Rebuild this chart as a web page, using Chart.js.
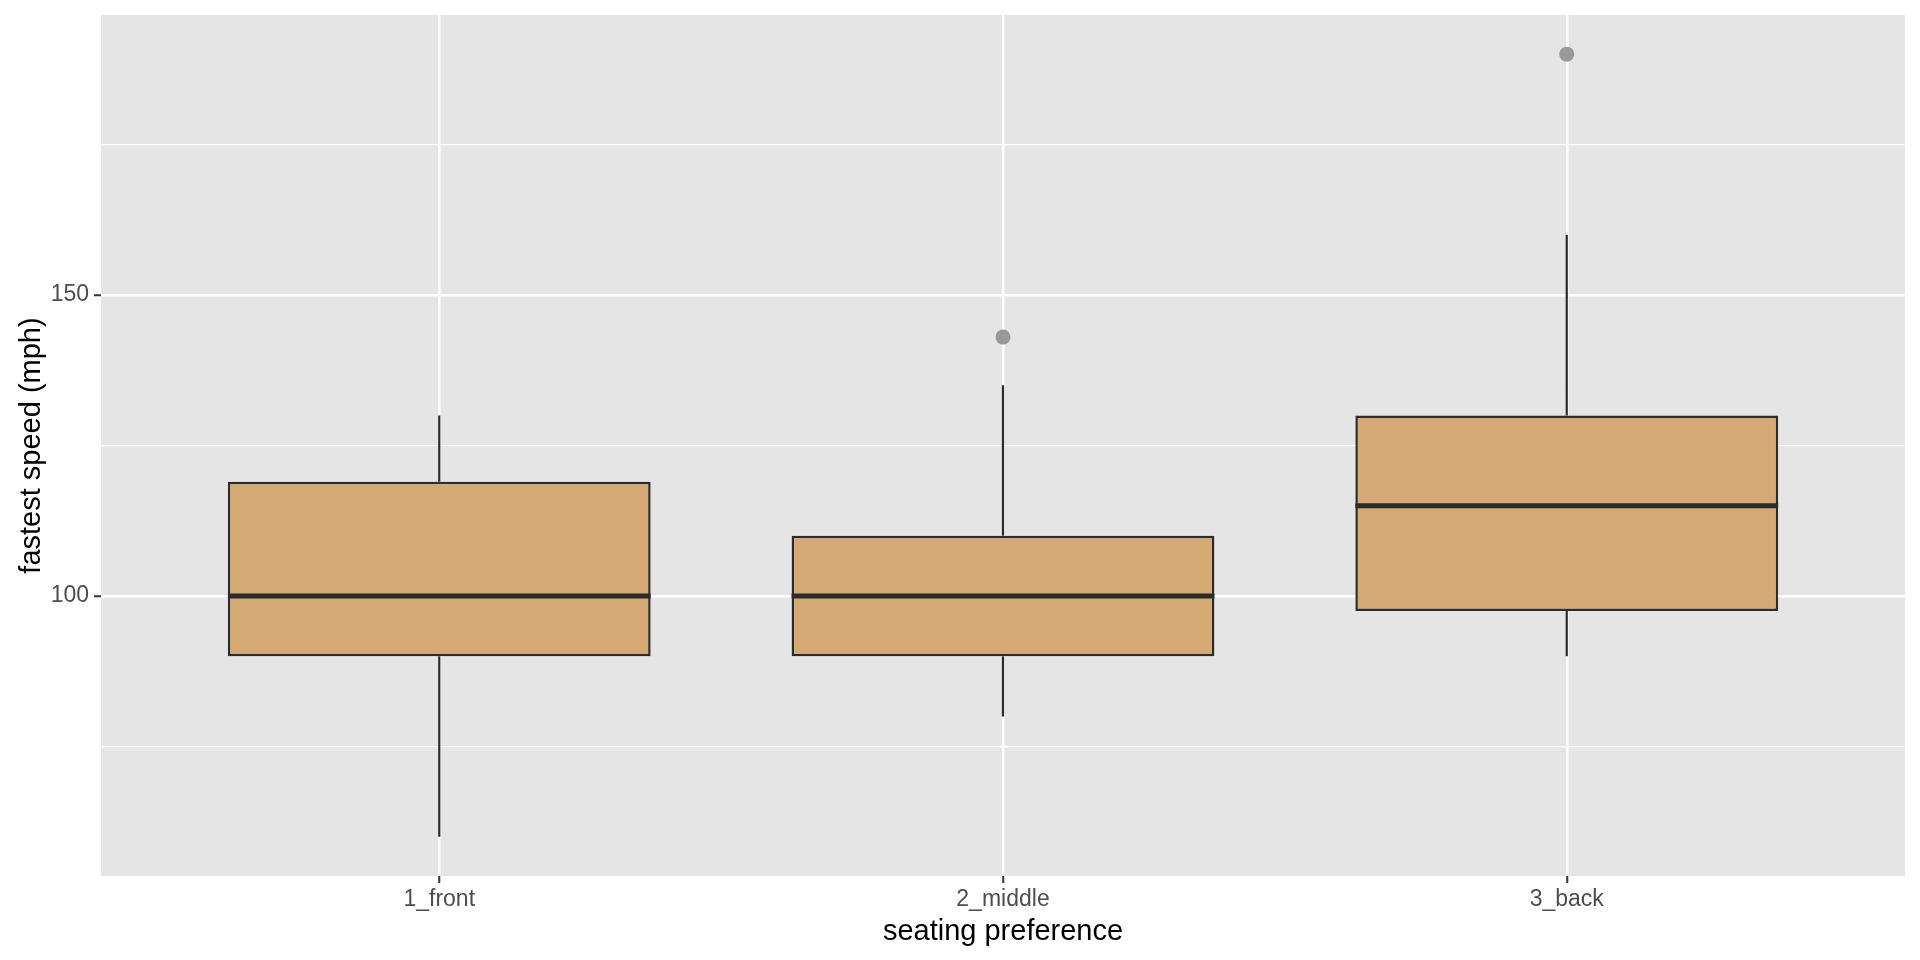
<!DOCTYPE html>
<html>
<head>
<meta charset="utf-8">
<script src="https://cdn.jsdelivr.net/npm/chart.js@4"></script>
<style>
  html, body { margin: 0; padding: 0; background: #ffffff; }
  #wrap { width: 1920px; height: 960px; }
</style>
</head>
<body>
<div id="wrap"><canvas id="chart" width="1920" height="960"></canvas></div>
<script>
// box plot summary per seating group
const categories = ["1_front", "2_middle", "3_back"];
const lowerWhisker = [60, 80, 90];
const q1 = [90, 90, 97.5];
const median = [100, 100, 115];
const q3 = [119, 110, 130];
const upperWhisker = [130, 135, 160];
const outliers = [[], [143], [190]];

const yTicks = [100, 150];
const yMin = 53.5, yMax = 196.5;

const boxWidth = 0.75;
const boxFill = "#d4a974";
const lineColor = "#2b2b2b";

// whiskers as one line with gaps
const whiskerPts = [];
categories.forEach((c, i) => {
    const x = i + 1;
    whiskerPts.push({x: x, y: q3[i]}, {x: x, y: upperWhisker[i]}, {x: x, y: null});
    whiskerPts.push({x: x, y: lowerWhisker[i]}, {x: x, y: q1[i]}, {x: x, y: null});
});

const medianPts = [];
categories.forEach((c, i) => {
    const x = i + 1;
    medianPts.push({x: x - boxWidth / 2, y: median[i]}, {x: x + boxWidth / 2, y: median[i]}, {x: x, y: null});
});

const outlierPts = [];
outliers.forEach((arr, i) => arr.forEach(v => outlierPts.push({x: i + 1, y: v})));

const boxData = categories.map((c, i) => ({x: i + 1, y: [q1[i], q3[i]]}));

const panelBg = {
    id: "panelBg",
    beforeDraw(chart) {
        const a = chart.chartArea;
        const ctx = chart.ctx;
        ctx.save();
        ctx.fillStyle = "#e5e5e5";
        ctx.fillRect(a.left, a.top, a.right - a.left, a.bottom - a.top);
        ctx.restore();
    }
};

const ctx = document.getElementById("chart").getContext("2d");
new Chart(ctx, {
    type: "bar",
    data: {
        datasets: [
            {
                type: "line",
                data: medianPts,
                borderColor: lineColor,
                borderWidth: 5,
                pointRadius: 0,
                spanGaps: false,
                order: 0
            },
            {
                type: "scatter",
                data: outlierPts,
                backgroundColor: "#999999",
                borderWidth: 0,
                pointRadius: 7.5,
                order: 0
            },
            {
                data: boxData,
                backgroundColor: boxFill,
                borderColor: lineColor,
                borderWidth: 2.5,
                borderSkipped: false,
                barPercentage: boxWidth,
                categoryPercentage: 1,
                order: 1
            },
            {
                type: "line",
                data: whiskerPts,
                borderColor: lineColor,
                borderWidth: 2.2,
                pointRadius: 0,
                spanGaps: false,
                order: 2
            }
        ]
    },
    options: {
        responsive: false,
        animation: false,
        layout: { padding: { top: 15, right: 15, left: 0, bottom: 0 } },
        plugins: {
            legend: { display: false },
            tooltip: { enabled: false }
        },
        scales: {
            x: {
                type: "linear",
                min: 0.4,
                max: 3.6,
                offset: false,
                border: { display: false },
                grid: {
                    offset: false,
                    color: "#ffffff",
                    lineWidth: 2.5,
                    tickColor: "#333333",
                    tickLength: 7,
                    tickWidth: 2
                },
                ticks: {
                    stepSize: 1,
                    includeBounds: false,
                    autoSkip: false,
                    maxRotation: 0,
                    color: "#4d4d4d",
                    padding: 3,
                    font: { family: "Liberation Sans", size: 23 },
                    callback: v => categories[v - 1] || ""
                },
                title: {
                    display: true,
                    text: "seating preference",
                    color: "#000000",
                    padding: { top: 0, bottom: 11 },
                    font: { family: "Liberation Sans", size: 29 }
                },
                afterFit(scale) {
                    scale.height = 84;
                    scale.paddingLeft = 0;
                    scale.paddingRight = 0;
                }
            },
            y: {
                min: yMin,
                max: yMax,
                border: { display: false },
                grid: {
                    color: "#ffffff",
                    lineWidth: c => yTicks.includes(c.tick.value) ? 2.5 : 1.2,
                    tickColor: c => yTicks.includes(c.tick.value) ? "#333333" : "rgba(0,0,0,0)",
                    tickLength: 7,
                    tickWidth: 2
                },
                ticks: {
                    stepSize: 25,
                    includeBounds: false,
                    color: "#4d4d4d",
                    padding: 5,
                    font: { family: "Liberation Sans", size: 23 },
                    callback: v => yTicks.includes(v) ? String(v) : ""
                },
                title: {
                    display: true,
                    text: "fastest speed (mph)",
                    color: "#000000",
                    padding: { top: 15, bottom: 0 },
                    font: { family: "Liberation Sans", size: 29 }
                },
                afterFit(scale) {
                    scale.width = 101;
                    scale.paddingTop = 0;
                    scale.paddingBottom = 0;
                }
            }
        }
    },
    plugins: [panelBg]
});
</script>
</body>
</html>
